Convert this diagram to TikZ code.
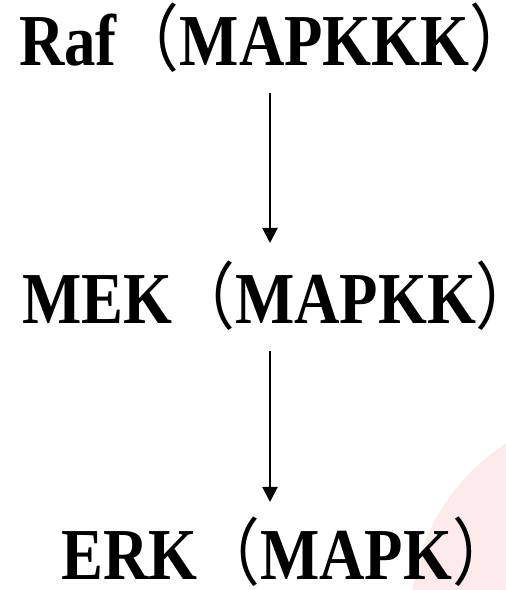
\documentclass[tikz,border=0pt]{standalone}
\usepackage{fontspec}
\setmainfont{Liberation Serif}
\newfontfamily\cjk{Noto Sans CJK SC}
\usetikzlibrary{arrows.meta}
\definecolor{blush}{HTML}{FDEAEA}
\newcommand{\lp}{{\mdseries\cjk（}}
\newcommand{\rp}{\makebox[0.4em][l]{\mdseries\cjk）}}
\begin{document}
\begin{tikzpicture}[x=1pt,y=1pt,
  lbl/.style={anchor=base west,inner sep=0pt,font=\fontsize{61}{61}\selectfont\bfseries},
  arr/.style={line width=2pt,-{Triangle[width=15pt,length=15pt]}}]
\useasboundingbox (0,0) rectangle (506,590);
\begin{scope}
\clip (0,0) rectangle (506,590);
\fill[blush] (617,-27) circle (206);
\end{scope}
\node[lbl] (raf) at (19,524) {\scalebox{1.03}[1.2]{Raf\lp MAPKKK\rp}};
\node[lbl] (mek) at (22,266) {\scalebox{1.03}[1.2]{MEK\lp MAPKK\rp}};
\node[lbl] (erk) at (61,10) {\scalebox{1.03}[1.2]{ERK\lp MAPK\rp}};
\coordinate (a1s) at (270,497);
\coordinate (a1e) at (270,347);
\coordinate (a2s) at (270,239);
\coordinate (a2e) at (270,88);
\draw[arr] (a1s) -- (a1e);
\draw[arr] (a2s) -- (a2e);
\end{tikzpicture}
\end{document}
